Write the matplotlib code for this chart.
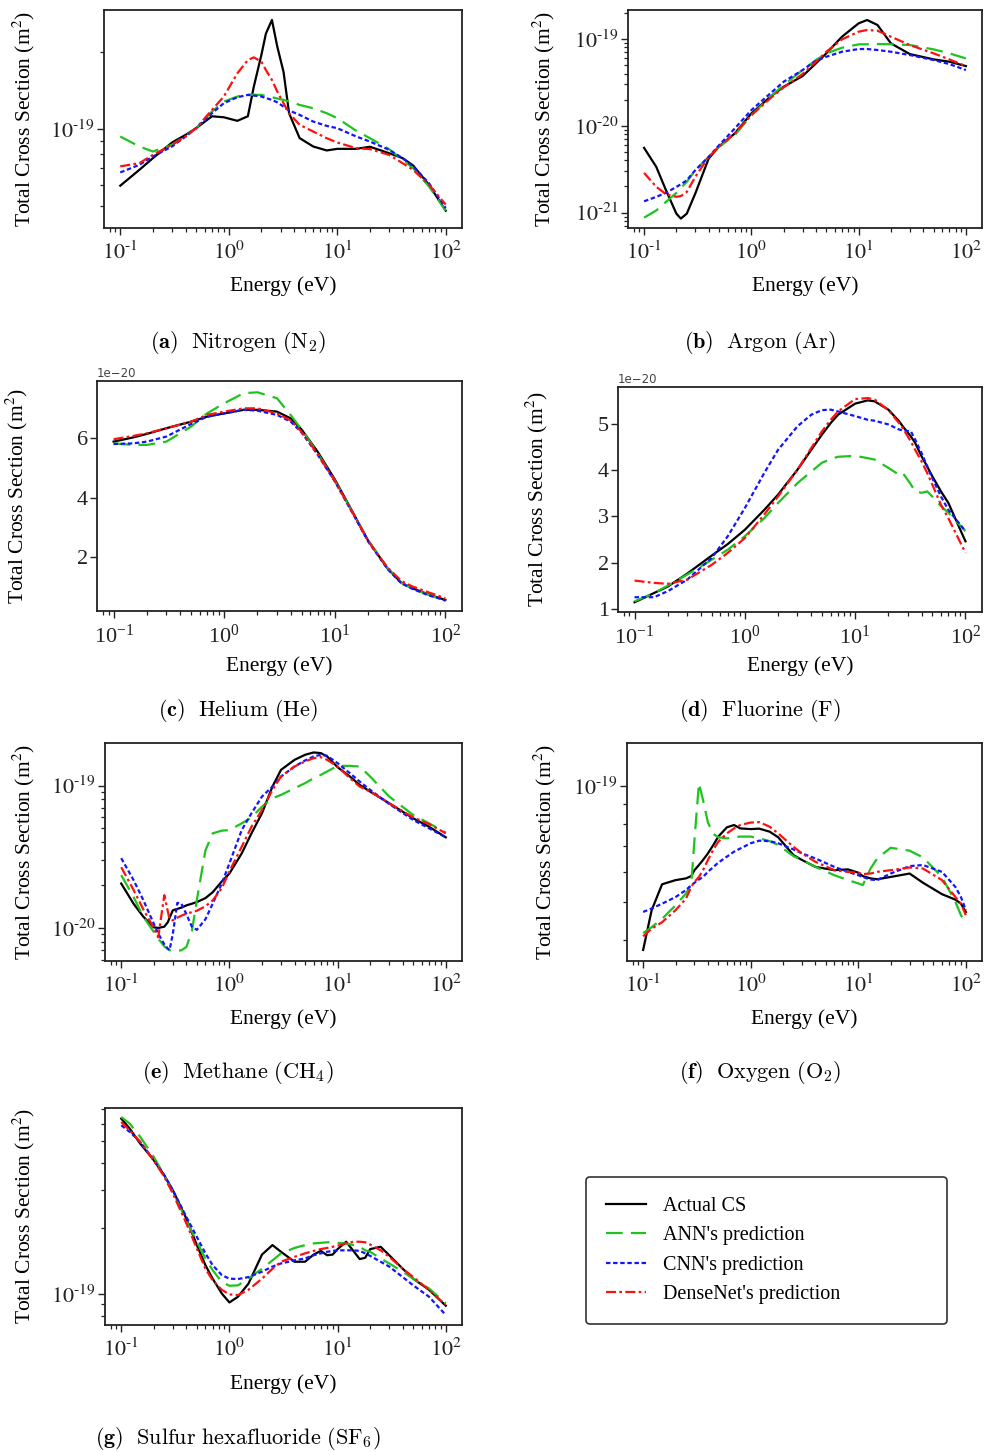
import numpy as np
import matplotlib
matplotlib.use('Agg')
import matplotlib.pyplot as plt
from matplotlib.ticker import NullFormatter, FuncFormatter, FixedLocator

plt.rcParams['font.family'] = 'serif'
plt.rcParams['font.serif'] = ['Liberation Serif', 'DejaVu Serif']
plt.rcParams['mathtext.fontset'] = 'stix'

# cross sections in units of 1e-20 m^2, energies in eV
E_N2 = [0.1, 0.15, 0.2, 0.3, 0.4, 0.5, 0.7, 0.9, 1.2, 1.5, 1.7, 2.0, 2.2, 2.5, 2.8, 3.2, 3.6, 4.5, 6, 8, 10, 15, 20, 30, 40, 50, 70, 100]
N2_actual = [5.99, 6.91, 7.68, 8.84, 9.47, 10.06, 11.2, 11.1, 10.75, 11.2, 14.6, 19.5, 23.6, 26.7, 21.0, 16.7, 11.5, 9.2, 8.53, 8.23, 8.35, 8.35, 8.51, 8.03, 7.68, 7.19, 6.04, 4.78]
N2_ann = [9.33, 8.53, 8.15, 8.66, 9.39, 10.06, 11.69, 12.79, 13.38, 13.62, 13.6, 13.58, 13.45, 13.30, 13.15, 12.98, 12.8, 12.41, 12.04, 11.51, 11.01, 9.82, 9.19, 8.33, 7.57, 7.02, 5.95, 4.78]
N2_cnn = [6.75, 7.23, 7.80, 8.53, 9.33, 10.06, 11.51, 12.60, 13.30, 13.58, 13.5, 13.38, 13.2, 12.98, 12.7, 12.22, 11.8, 11.34, 10.68, 10.27, 10.06, 9.33, 8.92, 8.28, 7.68, 7.13, 6.13, 4.90]
N2_dense = [7.13, 7.34, 7.91, 8.66, 9.33, 10.06, 11.86, 13.38, 16.50, 18.60, 19.05, 18.33, 17.0, 15.54, 14.0, 12.60, 11.5, 10.37, 9.76, 9.19, 8.84, 8.40, 8.33, 7.91, 7.34, 6.91, 6.04, 5.05]

E_Ar = [0.1, 0.13, 0.16, 0.2, 0.22, 0.25, 0.3, 0.4, 0.5, 0.7, 1, 1.5, 2, 3, 4, 5, 7, 10, 12, 15, 20, 30, 50, 70, 100]
Ar_actual = [0.557, 0.336, 0.181, 0.0973, 0.0853, 0.0973, 0.166, 0.42, 0.58, 0.816, 1.387, 2.16, 2.82, 3.74, 5.24, 6.84, 10.64, 15.16, 16.56, 14.5, 8.91, 6.71, 5.83, 5.48, 4.88]
Ar_ann = [0.0875, 0.106, 0.133, 0.169, 0.193, 0.226, 0.308, 0.439, 0.573, 0.78, 1.327, 2.16, 2.95, 4.39, 5.73, 6.84, 7.94, 8.68, 8.7, 8.76, 8.7, 8.53, 7.60, 6.84, 5.98]
Ar_cnn = [0.135, 0.152, 0.169, 0.198, 0.212, 0.236, 0.308, 0.439, 0.598, 0.932, 1.517, 2.36, 3.22, 4.39, 5.62, 6.25, 7.14, 7.67, 7.67, 7.47, 7.14, 6.54, 5.73, 5.15, 4.39]
Ar_dense = [0.287, 0.198, 0.163, 0.152, 0.155, 0.173, 0.258, 0.439, 0.573, 0.816, 1.327, 2.07, 2.77, 3.95, 5.48, 7.14, 9.91, 12.15, 12.7, 12.48, 10.64, 8.53, 6.84, 5.83, 4.88]

E_He = [0.1, 0.15, 0.2, 0.3, 0.5, 0.7, 1, 1.5, 2, 3, 4, 5, 7, 10, 15, 20, 30, 40, 50, 70, 100]
He_actual = [5.89, 6.03, 6.15, 6.34, 6.56, 6.73, 6.84, 6.96, 6.96, 6.90, 6.67, 6.30, 5.55, 4.62, 3.42, 2.56, 1.62, 1.14, 0.96, 0.75, 0.56]
He_ann = [5.83, 5.78, 5.78, 5.89, 6.39, 6.84, 7.18, 7.52, 7.55, 7.35, 6.78, 6.30, 5.50, 4.58, 3.40, 2.57, 1.64, 1.14, 0.95, 0.74, 0.53]
He_cnn = [5.81, 5.83, 5.89, 6.06, 6.48, 6.73, 6.84, 6.96, 6.93, 6.79, 6.56, 6.20, 5.45, 4.55, 3.38, 2.53, 1.60, 1.12, 0.94, 0.72, 0.55]
He_dense = [5.97, 6.08, 6.17, 6.34, 6.56, 6.79, 6.90, 7.01, 7.01, 6.84, 6.60, 6.22, 5.47, 4.57, 3.40, 2.55, 1.65, 1.20, 1.02, 0.82, 0.62]

E_F = [0.1, 0.15, 0.2, 0.3, 0.5, 0.7, 1, 1.5, 2, 3, 4, 5, 6, 7, 10, 13, 15, 20, 25, 27, 32, 35, 40, 45, 50, 60, 70, 100]
F_actual = [1.14, 1.34, 1.48, 1.76, 2.15, 2.40, 2.71, 3.14, 3.47, 4.01, 4.44, 4.77, 5.02, 5.20, 5.44, 5.51, 5.49, 5.31, 5.06, 4.95, 4.73, 4.59, 4.30, 4.08, 3.87, 3.54, 3.29, 2.46]
F_ann = [1.16, 1.34, 1.50, 1.74, 2.06, 2.28, 2.57, 2.96, 3.29, 3.72, 3.97, 4.16, 4.24, 4.29, 4.31, 4.26, 4.23, 4.05, 3.90, 3.94, 3.69, 3.54, 3.51, 3.54, 3.43, 3.22, 3.08, 2.68]
F_cnn = [1.25, 1.25, 1.38, 1.63, 2.10, 2.57, 3.18, 3.94, 4.44, 4.95, 5.20, 5.30, 5.31, 5.27, 5.17, 5.09, 5.07, 4.99, 4.88, 4.86, 4.84, 4.66, 4.37, 4.08, 3.83, 3.43, 3.14, 2.68]
F_dense = [1.61, 1.56, 1.54, 1.63, 1.95, 2.21, 2.53, 3.04, 3.43, 4.01, 4.48, 4.84, 5.09, 5.27, 5.54, 5.56, 5.53, 5.30, 5.02, 4.91, 4.62, 4.44, 4.19, 3.94, 3.69, 3.25, 2.96, 2.21]

E_CH4 = [0.1, 0.13, 0.16, 0.2, 0.22, 0.25, 0.27, 0.28, 0.3, 0.33, 0.36, 0.4, 0.45, 0.5, 0.6, 0.7, 0.85, 1, 1.3, 1.6, 2, 2.5, 3, 4, 5, 6, 7, 8, 10, 13, 16, 20, 30, 50, 70, 100]
CH4_actual = [2.05, 1.48, 1.20, 1.01, 1.00, 1.02, 1.10, 1.18, 1.33, 1.36, 1.39, 1.44, 1.48, 1.52, 1.62, 1.78, 2.12, 2.41, 3.34, 4.62, 6.39, 9.84, 12.89, 15.16, 16.44, 17.08, 16.90, 16.00, 13.46, 11.57, 10.11, 9.07, 7.51, 5.89, 5.14, 4.33]
CH4_ann = [2.35, 1.65, 1.20, 0.937, 0.841, 0.743, 0.71, 0.697, 0.690, 0.690, 0.697, 0.735, 0.95, 1.57, 3.5, 4.62, 4.82, 4.87, 5.43, 5.98, 7.11, 8.14, 8.60, 9.58, 10.39, 11.26, 11.89, 12.55, 13.75, 13.75, 13.61, 11.57, 8.37, 6.21, 5.43, 4.67]
CH4_cnn = [3.09, 2.17, 1.57, 1.07, 0.912, 0.767, 0.715, 0.70, 0.91, 1.5, 1.48, 1.25, 1.02, 0.97, 1.15, 1.48, 2.05, 2.84, 4.87, 6.39, 8.37, 9.84, 11.57, 13.61, 15.0, 16.0, 16.44, 16.18, 14.36, 12.21, 10.67, 9.32, 7.43, 5.73, 5.01, 4.33]
CH4_dense = [2.67, 1.85, 1.35, 1.0, 0.86, 1.7, 1.3, 1.15, 1.13, 1.18, 1.22, 1.26, 1.29, 1.32, 1.42, 1.56, 1.9, 2.5, 3.72, 5.14, 6.74, 9.32, 11.57, 13.61, 14.75, 15.57, 15.83, 15.16, 13.61, 11.27, 9.84, 9.07, 7.51, 5.98, 5.37, 4.62]

E_O2 = [0.1, 0.12, 0.15, 0.2, 0.25, 0.28, 0.3, 0.33, 0.36, 0.4, 0.45, 0.5, 0.6, 0.7, 0.8, 1, 1.2, 1.5, 1.8, 2.5, 3, 4, 6, 8, 10, 11, 13, 15, 20, 30, 40, 60, 80, 90, 100]
O2_actual = [3.76, 4.77, 5.57, 5.71, 5.77, 5.85, 6.06, 6.25, 6.44, 6.70, 7.05, 7.41, 7.83, 7.94, 7.78, 7.75, 7.77, 7.63, 7.38, 6.63, 6.44, 6.18, 6.06, 6.09, 5.97, 5.85, 5.77, 5.74, 5.82, 5.94, 5.62, 5.25, 5.08, 4.96, 4.72]
O2_ann = [4.16, 4.31, 4.53, 4.91, 5.27, 5.57, 7.26, 10.20, 9.23, 8.06, 7.52, 7.38, 7.33, 7.38, 7.41, 7.41, 7.33, 7.21, 7.05, 6.59, 6.44, 6.18, 5.88, 5.71, 5.60, 5.54, 6.12, 6.50, 6.93, 6.81, 6.54, 5.82, 5.01, 4.63, 4.42]
O2_cnn = [4.72, 4.82, 4.96, 5.16, 5.38, 5.54, 5.62, 5.73, 5.82, 6.00, 6.18, 6.34, 6.57, 6.77, 6.90, 7.12, 7.23, 7.21, 7.12, 6.86, 6.70, 6.50, 6.18, 6.00, 5.88, 5.82, 5.73, 5.71, 5.94, 6.21, 6.25, 6.00, 5.48, 5.16, 4.77]
O2_dense = [4.08, 4.27, 4.44, 4.77, 5.11, 5.48, 5.65, 5.82, 6.06, 6.44, 6.86, 7.19, 7.55, 7.78, 7.94, 8.06, 8.08, 7.86, 7.55, 6.97, 6.70, 6.37, 6.06, 6.00, 5.97, 5.92, 5.94, 6.00, 6.06, 6.16, 6.12, 5.71, 5.16, 4.96, 4.63]

E_SF6 = [0.1, 0.12, 0.15, 0.2, 0.25, 0.3, 0.4, 0.5, 0.6, 0.7, 0.85, 1, 1.2, 1.5, 2, 2.5, 3, 4, 5, 6, 7, 8, 9, 10, 12, 14, 16, 18, 20, 25, 30, 40, 50, 70, 100]
SF6_actual = [63.5, 57.1, 48.8, 41.0, 35.0, 29.9, 22.2, 16.8, 13.6, 11.8, 10.1, 9.19, 9.76, 11.2, 15.2, 16.8, 15.65, 14.1, 14.1, 15.2, 15.8, 15.1, 15.2, 16.1, 17.4, 15.8, 14.5, 14.7, 16.1, 16.5, 15.1, 13.1, 11.8, 10.5, 8.88]
SF6_ann = [64.6, 60.2, 52.4, 42.4, 35.0, 29.4, 21.8, 17.4, 14.6, 12.9, 11.4, 10.95, 11.0, 11.8, 13.1, 14.3, 15.4, 16.3, 16.8, 17.1, 17.2, 17.3, 17.3, 17.2, 17.1, 16.8, 16.5, 15.9, 15.65, 14.6, 13.85, 12.7, 11.8, 10.65, 9.10]
SF6_cnn = [59.2, 55.2, 49.7, 41.0, 35.0, 29.9, 22.6, 18.3, 15.4, 13.6, 12.25, 11.8, 11.75, 12.0, 12.7, 13.4, 13.85, 14.3, 14.6, 15.1, 15.4, 15.65, 15.8, 15.9, 15.9, 15.9, 15.8, 15.4, 15.0, 14.1, 13.4, 12.0, 11.0, 9.76, 8.05]
SF6_dense = [61.3, 56.1, 49.7, 41.0, 34.4, 28.9, 21.1, 16.2, 13.1, 11.6, 10.5, 10.0, 9.93, 10.5, 11.8, 13.1, 14.1, 14.85, 15.4, 15.8, 16.1, 16.3, 16.5, 16.7, 17.1, 17.4, 17.4, 17.3, 16.9, 15.9, 14.85, 13.1, 12.0, 10.5, 8.94]

LABELS = ['Actual CS', "ANN's prediction", "CNN's prediction", "DenseNet's prediction"]
COLORS = ['black', '#1ec31e', '#1414ff', '#ff1010']
DASHES = [None, (7.5, 3.7), (2.0, 1.2), (4.5, 1.5, 1.2, 1.5)]
LW = 1.6
X_TICKS = [0.1, 1, 10, 100]

W, H = 984, 1452

def px_axes(left, top, right, bottom):
    return [left / W, 1 - bottom / H, (right - left) / W, (bottom - top) / H]

def pow_label(v, pos):
    # times-like "10^-19" with a short hyphen, as in the figure
    e = int(round(np.log10(v)))
    exp = ('\u2010%d' % -e) if e < 0 else '%d' % e
    return r'$10^{%s}$' % exp

def draw_panel(box, energy, series, ylim, yticks, log_y=True, cm_ticks=False, ylab_x=37, xlab_y=276):
    ax = fig.add_axes(px_axes(*box))
    for s, c, d, lab in zip(series, COLORS, DASHES, LABELS):
        line, = ax.plot(energy, np.array(s) * 1e-20, color=c, lw=LW, label=lab)
        if d is not None:
            line.set_dashes(d)
    ax.set_xscale('log')
    if log_y:
        ax.set_yscale('log')
    ax.set_ylim(ylim[0] * 1e-20, ylim[1] * 1e-20)
    ax.xaxis.set_major_locator(FixedLocator(X_TICKS))
    ax.yaxis.set_major_locator(FixedLocator([t * 1e-20 for t in yticks]))
    ax.xaxis.set_minor_formatter(NullFormatter())
    ax.yaxis.set_minor_formatter(NullFormatter())
    if not cm_ticks:
        ax.xaxis.set_major_formatter(FuncFormatter(pow_label))
    if log_y:
        ax.yaxis.set_major_formatter(FuncFormatter(pow_label))
    ax.tick_params(which='both', direction='out', top=False, right=False, colors='#222222')
    ax.tick_params(which='major', length=5, width=1.0, labelsize=16)
    ax.tick_params(which='minor', length=3, width=0.9)
    ax.tick_params(axis='x', which='major', pad=5)
    ax.tick_params(axis='y', which='major', pad=1.5)
    for sp in ax.spines.values():
        sp.set_linewidth(1.3)
        sp.set_color('#222222')
    ax.set_xlabel('Energy (eV)', fontsize=15.5)
    ax.set_ylabel(r'Total Cross Section (m$^2$)', fontsize=15.5)
    left, top, right, bottom = box
    ax.yaxis.set_label_coords((ylab_x - left) / (right - left), 0.5)
    ax.xaxis.set_label_coords(0.5, -(xlab_y - bottom) / (bottom - top))
    if cm_ticks:
        for t in ax.get_xticklabels():
            t.set_math_fontfamily('cm')
        off = ax.yaxis.get_offset_text()
        off.set_family('DejaVu Sans')
        off.set_fontsize(8.5)
        off.set_color('#444444')
    return ax

fig = plt.figure(figsize=(W / 100, H / 100), dpi=100)

ax_a = draw_panel((104, 10, 462, 228), E_N2, [N2_actual, N2_ann, N2_cnn, N2_dense], (4.09, 29.2), [10],
                  ylab_x=37, xlab_y=276)
ax_b = draw_panel((628, 10, 982, 228), E_Ar, [Ar_actual, Ar_ann, Ar_cnn, Ar_dense], (0.0665, 21.6), [0.1, 1, 10],
                  ylab_x=557, xlab_y=276)
ax_c = draw_panel((97, 381, 462, 611), E_He, [He_actual, He_ann, He_cnn, He_dense], (0.19, 7.93), [2, 4, 6],
                  log_y=False, cm_ticks=True, ylab_x=30, xlab_y=656)
ax_d = draw_panel((618, 387, 982, 612), E_F, [F_actual, F_ann, F_cnn, F_dense], (0.93, 5.80), [1, 2, 3, 4, 5],
                  log_y=False, cm_ticks=True, ylab_x=550, xlab_y=656)
ax_e = draw_panel((105, 743, 462, 961), E_CH4, [CH4_actual, CH4_ann, CH4_cnn, CH4_dense], (0.586, 19.9), [1, 10],
                  ylab_x=37, xlab_y=1009)
ax_f = draw_panel((627, 743, 982, 961), E_O2, [O2_actual, O2_ann, O2_cnn, O2_dense], (3.52, 12.97), [10],
                  ylab_x=558, xlab_y=1009)
ax_g = draw_panel((105, 1108, 462, 1325), E_SF6, [SF6_actual, SF6_ann, SF6_cnn, SF6_dense], (7.25, 71.0), [10],
                  ylab_x=37, xlab_y=1374)

captions = [
    (238, 342, r'$\mathbf{(a)}\ \ \mathrm{Nitrogen\ (N_2)}$'),
    (760, 342, r'$\mathbf{(b)}\ \ \mathrm{Argon\ (Ar)}$'),
    (238, 710, r'$\mathbf{(c)}\ \ \mathrm{Helium\ (He)}$'),
    (760, 710, r'$\mathbf{(d)}\ \ \mathrm{Fluorine\ (F)}$'),
    (238, 1073, r'$\mathbf{(e)}\ \ \mathrm{Methane\ (CH_4)}$'),
    (760, 1073, r'$\mathbf{(f)}\ \ \mathrm{Oxygen\ (O_2)}$'),
    (238, 1438, r'$\mathbf{(g)}\ \ \mathrm{Sulfur\ hexafluoride\ (SF_6)}$'),
]
for cx, cy, txt in captions:
    fig.text(cx / W, 1 - cy / H, txt, ha='center', va='center', fontsize=16, math_fontfamily='cm')

handles, labels = ax_g.get_legend_handles_labels()
leg = fig.legend(handles, labels, loc='upper left',
                 bbox_to_anchor=(586 / W, 1 - 1177 / H, (947 - 586) / W, 0), mode='expand',
                 fontsize=14.5, borderpad=1.0, labelspacing=0.5, handlelength=2.0,
                 handletextpad=0.8, borderaxespad=0, fancybox=True, framealpha=1)
leg.get_frame().set_edgecolor('#333333')
leg.get_frame().set_linewidth(1.2)

fig.savefig('out.png', dpi=100)
